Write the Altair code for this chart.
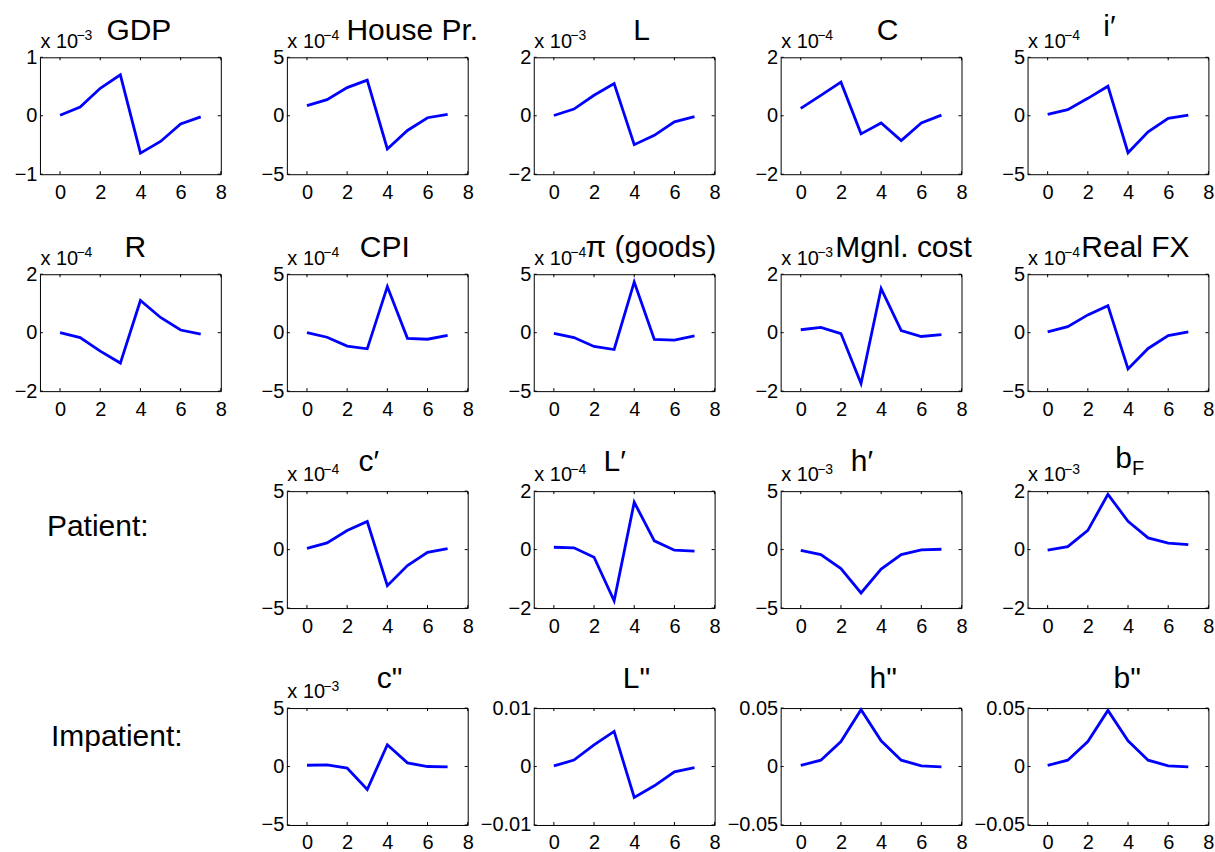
import altair as alt
import pandas as pd

FONT = "Liberation Sans"
W, H = 181, 117

steps = [0, 1, 2, 3, 4, 5, 6, 7]
x_ticks = [0, 2, 4, 6, 8]

# values shown in the units of each panel's axis (multiplier in the "x 10^k" label)
gdp = [0.01, 0.15, 0.47, 0.70, -0.64, -0.44, -0.14, -0.02]
house_pr = [0.86, 1.38, 2.41, 3.05, -2.84, -1.26, -0.17, 0.11]
labour = [0.01, 0.23, 0.70, 1.10, -0.99, -0.67, -0.21, -0.03]
cons = [0.25, 0.70, 1.15, -0.62, -0.25, -0.85, -0.25, 0.02]
i_prime = [0.11, 0.52, 1.49, 2.53, -3.16, -1.38, -0.23, 0.06]
rate = [0.0, -0.17, -0.63, -1.04, 1.10, 0.52, 0.09, -0.05]
cpi = [0.0, -0.39, -1.15, -1.38, 3.94, -0.48, -0.56, -0.23]
pi_goods = [-0.06, -0.42, -1.18, -1.44, 4.34, -0.58, -0.63, -0.27]
mgnl_cost = [0.10, 0.18, -0.03, -1.74, 1.51, 0.07, -0.13, -0.07]
real_fx = [0.06, 0.51, 1.52, 2.31, -3.10, -1.35, -0.25, 0.06]
c_p = [0.11, 0.57, 1.63, 2.40, -3.09, -1.37, -0.23, 0.09]
l_p = [0.08, 0.06, -0.26, -1.75, 1.62, 0.30, -0.02, -0.05]
h_p = [-0.06, -0.43, -1.63, -3.71, -1.66, -0.43, -0.03, 0.03]
b_f = [-0.02, 0.10, 0.66, 1.89, 0.97, 0.40, 0.22, 0.17]
c_pp = [0.11, 0.14, -0.14, -1.97, 1.86, 0.31, 0.0, -0.03]
l_pp = [0.0001, 0.0011, 0.0037, 0.0060, -0.0053, -0.0033, -0.0009, -0.0002]
h_pp = [0.0009, 0.0054, 0.0214, 0.0486, 0.0220, 0.0054, 0.0006, -0.0003]
b_pp = [0.0009, 0.0054, 0.0214, 0.0480, 0.0220, 0.0054, 0.0006, -0.0003]

titles = ["GDP", "House Pr.", "L", "C", "i′",
          "R", "CPI", "π (goods)", "Mgnl. cost", "Real FX",
          "c′", "L′", "h′", "b",
          'c"', 'L"', 'h"', 'b"']
subscripts = ["", "", "", "", "", "", "", "", "", "",
              "", "", "", "F", "", "", "", ""]
series = [gdp, house_pr, labour, cons, i_prime,
          rate, cpi, pi_goods, mgnl_cost, real_fx,
          c_p, l_p, h_p, b_f,
          c_pp, l_pp, h_pp, b_pp]
y_limits = [1, 5, 2, 2, 5,
            2, 5, 5, 2, 5,
            5, 2, 5, 2,
            5, 0.01, 0.05, 0.05]
exponents = ["−3", "−4", "−3", "−4", "−4",
             "−4", "−4", "−4", "−3", "−4",
             "−4", "−4", "−3", "−3",
             "−3", "", "", ""]
group_labels = ["Patient:", "Impatient:"]

# layout: title centre (px from box left) and baseline height above the box
title_cx = [99, 125.5, 108, 107, 82,
            95.4, 98, 117.2, 123, 108,
            82, 81, 81.4, 96,
            102.8, 102.8, 102.7, 99.8]
title_dy = [17.7, 17.7, 17.7, 17.7, 20.9,
            17.7, 17.7, 17.7, 17.7, 17.7,
            20, 20, 20, 23.4,
            19.6, 20.5, 19.6, 19.6]
label_pos = [(7, 45), (11, 38.3)]


def one_row():
    return pd.DataFrame({"k": [0]})


def panel(i):
    lim = y_limits[i]
    xs = alt.Scale(domain=[-1, 8], nice=False, zero=False)
    ys = alt.Scale(domain=[-lim, lim], nice=False, zero=False)
    xax = alt.Axis(values=x_ticks, title=None, labelPadding=8, format="~g",
                   labelFlush=False, labelOverlap=False)
    yax = alt.Axis(values=[-lim, 0, lim], title=None, labelPadding=3, format="~g",
                   labelFlush=False, labelOverlap=False)
    enc_x = alt.X("step:Q", scale=xs, axis=xax)
    enc_y = alt.Y("v:Q", scale=ys, axis=yax)

    df = pd.DataFrame({"step": steps, "v": series[i]})
    line = alt.Chart(df).mark_line(color="#0000ff", strokeWidth=2.8).encode(
        x=enc_x, y=enc_y)

    xt = pd.DataFrame({"step": x_ticks})
    yt = pd.DataFrame({"v": [-lim, 0, lim]})
    tick_bottom = alt.Chart(xt).mark_rule(color="black", strokeWidth=1).encode(
        x=enc_x, y=alt.value(H), y2=alt.value(H - 3))
    tick_top = alt.Chart(xt).mark_rule(color="black", strokeWidth=1).encode(
        x=enc_x, y=alt.value(0), y2=alt.value(3))
    tick_left = alt.Chart(yt).mark_rule(color="black", strokeWidth=1).encode(
        y=enc_y, x=alt.value(0), x2=alt.value(3))
    tick_right = alt.Chart(yt).mark_rule(color="black", strokeWidth=1).encode(
        y=enc_y, x=alt.value(W), x2=alt.value(W - 3))
    layers = [line, tick_bottom, tick_top, tick_left, tick_right]

    title = alt.Chart(one_row()).mark_text(
        text=titles[i], fontSize=30, align="center", baseline="alphabetic"
    ).encode(x=alt.value(title_cx[i]), y=alt.value(-title_dy[i]))
    layers.append(title)
    if subscripts[i]:
        sub = alt.Chart(one_row()).mark_text(
            text=subscripts[i], fontSize=20, align="left", baseline="alphabetic"
        ).encode(x=alt.value(title_cx[i] + 8.5), y=alt.value(-title_dy[i] + 7))
        layers.append(sub)
    if exponents[i]:
        base = alt.Chart(one_row()).mark_text(
            text="x 10", fontSize=20, align="left", baseline="alphabetic"
        ).encode(x=alt.value(0.5), y=alt.value(-9.7))
        sup = alt.Chart(one_row()).mark_text(
            text=exponents[i], fontSize=14, align="left", baseline="alphabetic"
        ).encode(x=alt.value(36.5), y=alt.value(-17.4))
        layers += [base, sup]
    if i == 0:
        anchor = alt.Chart(one_row()).mark_rule(strokeWidth=0, opacity=0).encode(
            x=alt.value(-39), x2=alt.value(-39), y=alt.value(-56), y2=alt.value(-56))
        layers.append(anchor)
    return alt.layer(*layers).properties(width=W, height=H)


def label_cell(j):
    px, py = label_pos[j]
    return alt.Chart(one_row()).mark_text(
        text=group_labels[j], fontSize=30, align="left", baseline="alphabetic"
    ).encode(x=alt.value(px), y=alt.value(py)).properties(
        width=W, height=H, view=alt.ViewBackground(stroke="transparent"))


cells = [panel(i) for i in range(10)]
cells += [label_cell(0)] + [panel(i) for i in range(10, 14)]
cells += [label_cell(1)] + [panel(i) for i in range(14, 18)]

chart = alt.concat(*cells, columns=5, spacing={"row": 100.1, "column": 66.1}).properties(
    bounds="flush", padding=0, background="white"
).configure_view(
    stroke="black", strokeWidth=1
).configure_axis(
    labelFont=FONT, labelFontSize=20, labelColor="black", domain=False,
    ticks=False, grid=False
).configure_text(font=FONT, color="black")

chart.save("out.html", embed_options={"renderer": "svg", "actions": False})
